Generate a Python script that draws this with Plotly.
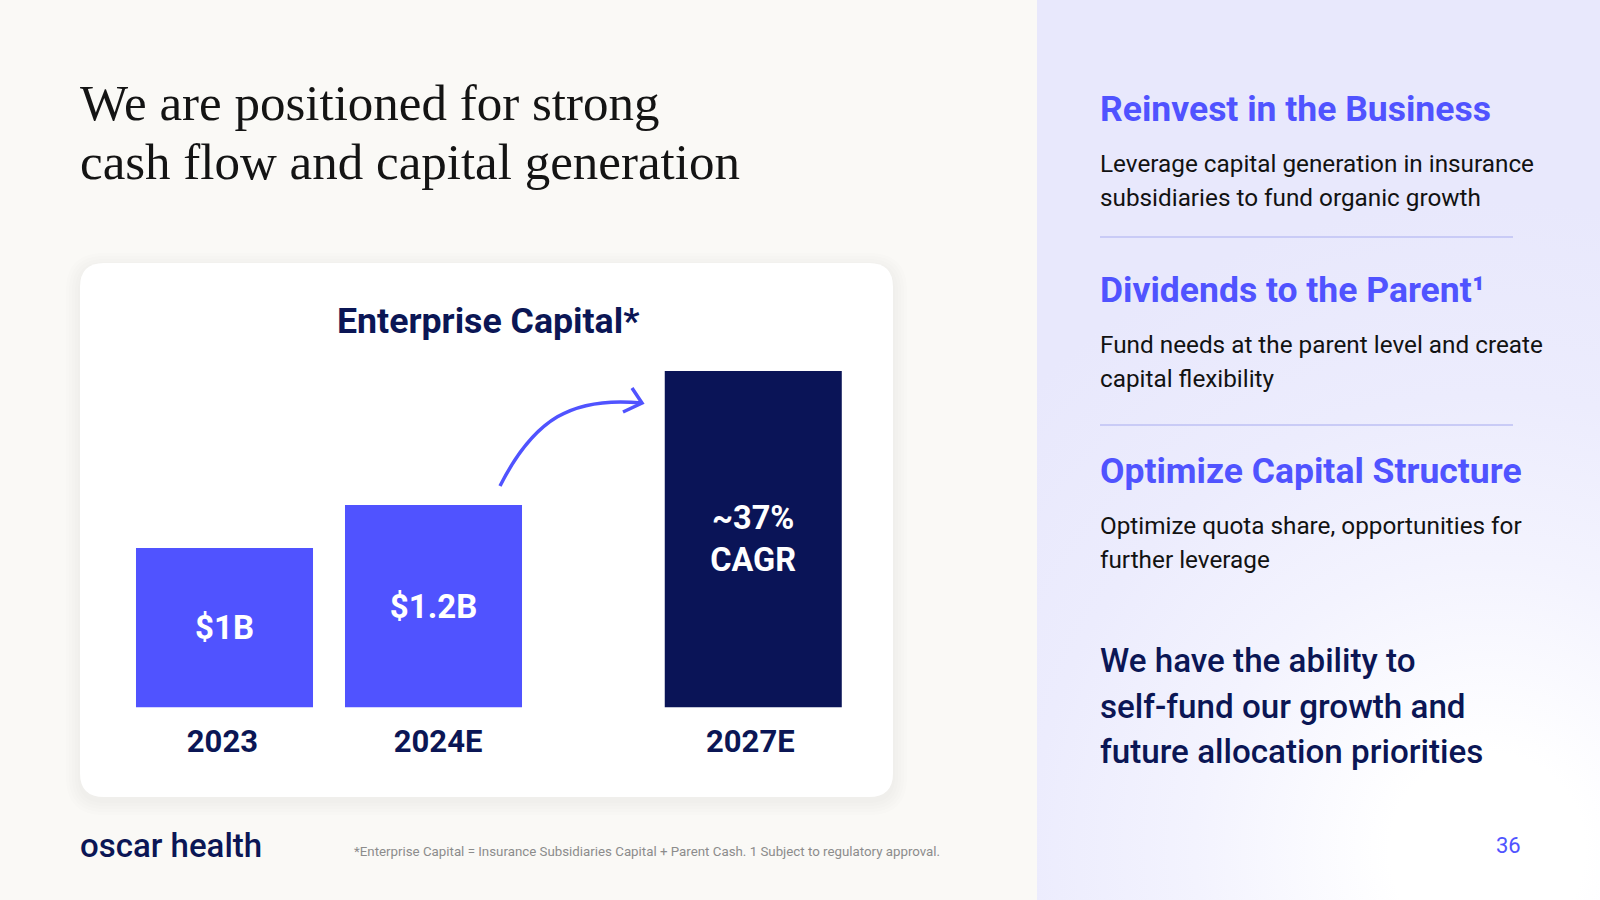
import base64
import plotly.graph_objects as go

# ---------------- data ----------------
categories = ["2023", "2024E", "2027E"]
bar_heights = [1.0, 1.27, 2.11]          # relative bar heights as drawn
bar_labels = ["$1B", "$1.2B", "~37%<br>CAGR"]
bar_colors = ["#5053FF", "#5053FF", "#0A1457"]

title_lines = ["We are positioned for strong", "cash flow and capital generation"]
chart_title = "Enterprise Capital*"
section_heads = ["Reinvest in the Business", "Dividends to the Parent¹", "Optimize Capital Structure"]
section_bodies = [
    ["Leverage capital generation in insurance", "subsidiaries to fund organic growth"],
    ["Fund needs at the parent level and create", "capital flexibility"],
    ["Optimize quota share, opportunities for", "further leverage"],
]
summary_lines = ["We have the ability to", "self-fund our growth and", "future allocation priorities"]
footnote = "*Enterprise Capital = Insurance Subsidiaries Capital + Parent Cash. 1 Subject to regulatory approval."
logo_text = "oscar health"
page_number = "36"

# ---------------- layout helpers ----------------
W, H = 1600, 900
def px(x):
    return x / W
def py(y):
    return 1 - y / H

NAVY = "#0B1655"
BLUE = "#5053FF"
SANS = "Roboto"

x_slots = [0, 1, 2.53]
bar_width = 0.847
tick_shift = [-0.01, 0.022, -0.014]     # small label offsets as in the slide

def rounded_rect(x0, y0, x1, y1, r):
    pts = [
        f"M {px(x0 + r)} {py(y0)}",
        f"L {px(x1 - r)} {py(y0)}",
        f"Q {px(x1)} {py(y0)} {px(x1)} {py(y0 + r)}",
        f"L {px(x1)} {py(y1 - r)}",
        f"Q {px(x1)} {py(y1)} {px(x1 - r)} {py(y1)}",
        f"L {px(x0 + r)} {py(y1)}",
        f"Q {px(x0)} {py(y1)} {px(x0)} {py(y1 - r)}",
        f"L {px(x0)} {py(y0 + r)}",
        f"Q {px(x0)} {py(y0)} {px(x0 + r)} {py(y0)}",
        "Z",
    ]
    return " ".join(pts)

def ann(text, x, baseline, size, color, weight=400, family=SANS, xanchor="left"):
    return dict(
        text=text, x=px(x), y=py(baseline - 0.34 * size), xref="paper", yref="paper",
        xanchor=xanchor, yanchor="middle", showarrow=False, borderpad=0,
        font=dict(family=family, size=size, color=color, weight=weight),
    )

# ---------------- figure ----------------
fig = go.Figure()
fig.add_trace(go.Bar(
    x=x_slots, y=bar_heights, width=bar_width,
    marker=dict(color=bar_colors, line=dict(width=0)),
    text=bar_labels, textposition="inside", insidetextanchor="middle",
    textangle=0, constraintext="none",
    textfont=dict(family=SANS, size=[33, 33, 32.5], color="white", weight=700),
    hoverinfo="skip", cliponaxis=False,
))

shapes = []
# card shadow + card
for i in range(5):
    g = 2 + 3 * i
    shapes.append(dict(type="path", path=rounded_rect(80 - g, 263 - g + 4, 893 + g, 797 + g + 4, 24 + g),
                       xref="paper", yref="paper", fillcolor="rgba(90,80,50,0.012)",
                       line=dict(width=0), layer="below"))
shapes.append(dict(type="path", path=rounded_rect(80, 263, 893, 797, 24), xref="paper", yref="paper",
                   fillcolor="#FFFFFF", line=dict(width=0), layer="below"))

# curved arrow (decoration)
p0, p1, p2, p3 = (500, 486), (533.75, 419.25), (572, 396), (642, 403)
shapes.append(dict(type="path", xref="paper", yref="paper",
                   path=f"M {px(p0[0])} {py(p0[1])} C {px(p1[0])} {py(p1[1])} {px(p2[0])} {py(p2[1])} {px(p3[0])} {py(p3[1])}",
                   line=dict(color=BLUE, width=3.5)))
shapes.append(dict(type="path", xref="paper", yref="paper",
                   path=f"M {px(632)} {py(388)} L {px(642)} {py(403)} L {px(623)} {py(412)}",
                   line=dict(color=BLUE, width=3.5)))

# dividers on right panel
for yy in [237, 425]:
    shapes.append(dict(type="line", xref="paper", yref="paper", x0=px(1100), x1=px(1513),
                       y0=py(yy), y1=py(yy), line=dict(color="#C9CBF6", width=2)))

annotations = []
# slide title
for line, bl in zip(title_lines, [120, 179]):
    annotations.append(ann(line, 79, bl, 51, "#141414", family="Liberation Serif"))
# chart title
annotations.append(ann(chart_title, 487.5, 333, 35.7, NAVY, weight=700, xanchor="center"))

# right panel sections
head_baselines = [121, 302, 483]
for head, body, bl in zip(section_heads, section_bodies, head_baselines):
    annotations.append(ann(head, 1099, bl, 35.5, BLUE, weight=700))
    for j, ln in enumerate(body):
        annotations.append(ann(ln, 1099, bl + 51 + j * 33.5, 24.3, "#121212"))
for ln, bl in zip(summary_lines, [672, 717.5, 763]):
    annotations.append(ann(ln, 1099, bl, 33.2, NAVY, weight=500))
annotations.append(ann(page_number, 1495, 853, 22, BLUE))

# footer
annotations.append(ann(logo_text, 79, 857, 33, NAVY, weight=500))
annotations.append(ann(footnote, 353, 856, 13.3, "#8C8C8C"))

# right panel gradient
svg = """<svg xmlns='http://www.w3.org/2000/svg' width='563' height='900' viewBox='0 0 563 900' preserveAspectRatio='none'>
<defs><radialGradient id='g' gradientUnits='userSpaceOnUse' cx='450' cy='850' r='650'>
<stop offset='0' stop-color='#FFFFFF'/><stop offset='0.15' stop-color='#FFFFFF'/>
<stop offset='0.45' stop-color='#F3F3FE'/><stop offset='0.7' stop-color='#ECECFD'/>
<stop offset='1' stop-color='#E8E8FC'/></radialGradient></defs>
<rect width='563' height='900' fill='url(#g)'/></svg>"""
svg_uri = "data:image/svg+xml;base64," + base64.b64encode(svg.encode()).decode()

fig.update_layout(
    width=W, height=H, margin=dict(l=0, r=0, t=0, b=0),
    paper_bgcolor="#FAF9F6", plot_bgcolor="rgba(0,0,0,0)",
    showlegend=False, hovermode=False,
    shapes=shapes, annotations=annotations,
    images=[dict(source=svg_uri, xref="paper", yref="paper", x=px(1037), y=1,
                 sizex=1 - px(1037), sizey=1, sizing="stretch", layer="below",
                 xanchor="left", yanchor="top")],
    xaxis=dict(domain=[px(120), px(851.5)], range=[-0.5, 3.0], tickmode="array",
               tickvals=[s + d for s, d in zip(x_slots, tick_shift)], ticktext=categories,
               showgrid=False, zeroline=False,
               showline=False, ticks="", ticklabelstandoff=12,
               tickfont=dict(family=SANS, size=31, color=NAVY, weight=700), fixedrange=True),
    yaxis=dict(domain=[py(707.5), py(308.75)], range=[0, 2.5], visible=False, fixedrange=True),
)

fig.write_html("out.html", config={"displayModeBar": False})
